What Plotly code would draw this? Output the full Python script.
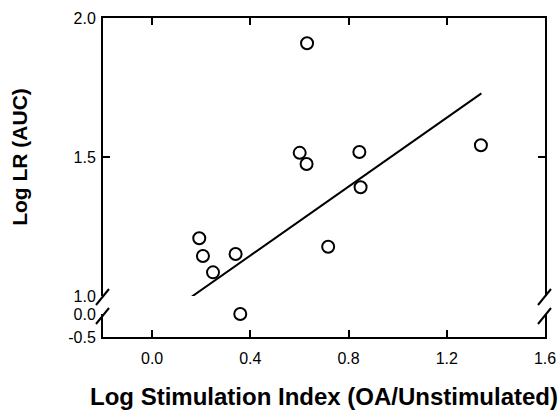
import plotly.graph_objects as go

# Data
stim_index = [0.631, 0.601, 0.629, 0.844, 0.849, 1.339, 0.717, 0.192, 0.207, 0.248, 0.340, 0.359]
log_lr = [1.909, 1.515, 1.475, 1.518, 1.391, 1.542, 1.177, 1.208, 1.144, 1.085, 1.151, 0.0]
fit_x = [0.162, 1.341]
fit_y = [0.998, 1.729]
x_ticks = [0.0, 0.4, 0.8, 1.2, 1.6]
x_tick_text = ["0.0", "0.4", "0.8", "1.2", "1.6"]
y_upper_ticks = [1.0, 1.5, 2.0]
y_upper_text = ["1.0", "1.5", "2.0"]
y_lower_ticks = [-0.5, 0.0]
y_lower_text = ["-0.5", "0.0"]

FONT = "Liberation Sans, Arial, sans-serif"
BLACK = "#000000"

up_x = [x for x, y in zip(stim_index, log_lr) if y >= 0.5]
up_y = [y for y in log_lr if y >= 0.5]
lo_x = [x for x, y in zip(stim_index, log_lr) if y < 0.5]
lo_y = [y for y in log_lr if y < 0.5]

marker = dict(symbol="circle-open", size=12, color=BLACK, line=dict(width=2, color=BLACK))

fig = go.Figure()
fig.add_trace(go.Scatter(x=fit_x, y=fit_y, xaxis="x", yaxis="y", mode="lines",
                         line=dict(color=BLACK, width=2), hoverinfo="skip"))
fig.add_trace(go.Scatter(x=up_x, y=up_y, xaxis="x", yaxis="y", mode="markers",
                         marker=marker, cliponaxis=False))
fig.add_trace(go.Scatter(x=lo_x, y=lo_y, xaxis="x2", yaxis="y2", mode="markers",
                         marker=marker, cliponaxis=False))

W, H = 560, 417
ml, mr, mt, mb = 103, 15, 18, 80
plot_h = H - mt - mb
upper_bottom = (337 - 296) / plot_h
lower_top = (337 - 314) / plot_h

tick_style = dict(ticks="inside", ticklen=7, tickwidth=2, tickcolor=BLACK)
line_style = dict(showline=True, linecolor=BLACK, linewidth=2, showgrid=False, zeroline=False,
                  automargin=False)

fig.update_layout(
    width=W, height=H,
    margin=dict(l=ml, r=mr, t=mt, b=mb),
    paper_bgcolor="white", plot_bgcolor="white",
    font=dict(family=FONT, color=BLACK, size=16),
    showlegend=False,
    xaxis=dict(domain=[0, 1], anchor="y", side="top", range=[-0.2, 1.6],
               tickmode="array", tickvals=x_ticks, ticktext=x_tick_text,
               showticklabels=False, **tick_style, **line_style),
    yaxis=dict(domain=[upper_bottom, 1.0], anchor="x", range=[1.0, 2.0],
               tickmode="array", tickvals=y_upper_ticks, ticktext=y_upper_text,
               mirror="ticks", ticklabelstandoff=2, **tick_style, **line_style,
               title=dict(text="<b>Log LR (AUC)</b>", font=dict(size=21), standoff=40)),
    xaxis2=dict(domain=[0, 1], anchor="y2", side="bottom", range=[-0.2, 1.6], matches="x",
                tickmode="array", tickvals=x_ticks, ticktext=x_tick_text, ticklabelstandoff=6,
                **tick_style, **line_style,
                title=dict(text="<b>Log Stimulation Index (OA/Unstimulated)</b>",
                           font=dict(size=24), standoff=22)),
    yaxis2=dict(domain=[0, lower_top], anchor="x2", range=[-0.5, 0.0],
                tickmode="array", tickvals=y_lower_ticks, ticktext=y_lower_text, ticks="",
                mirror=True, ticklabelstandoff=2, **line_style),
)

# axis-break marks on left and right axes
plot_w = W - ml - mr
def px_x(dx):
    return dx / plot_w
def py_y(py):
    return (337 - py) / plot_h

for x0 in (0.0, 1.0):
    for (ya, yb) in ((305, 289), (324, 308)):
        fig.add_shape(type="line", xref="paper", yref="paper",
                      x0=x0 + px_x(-7), y0=py_y(ya), x1=x0 + px_x(6), y1=py_y(yb),
                      line=dict(color=BLACK, width=2))

fig.write_html("out.html")
